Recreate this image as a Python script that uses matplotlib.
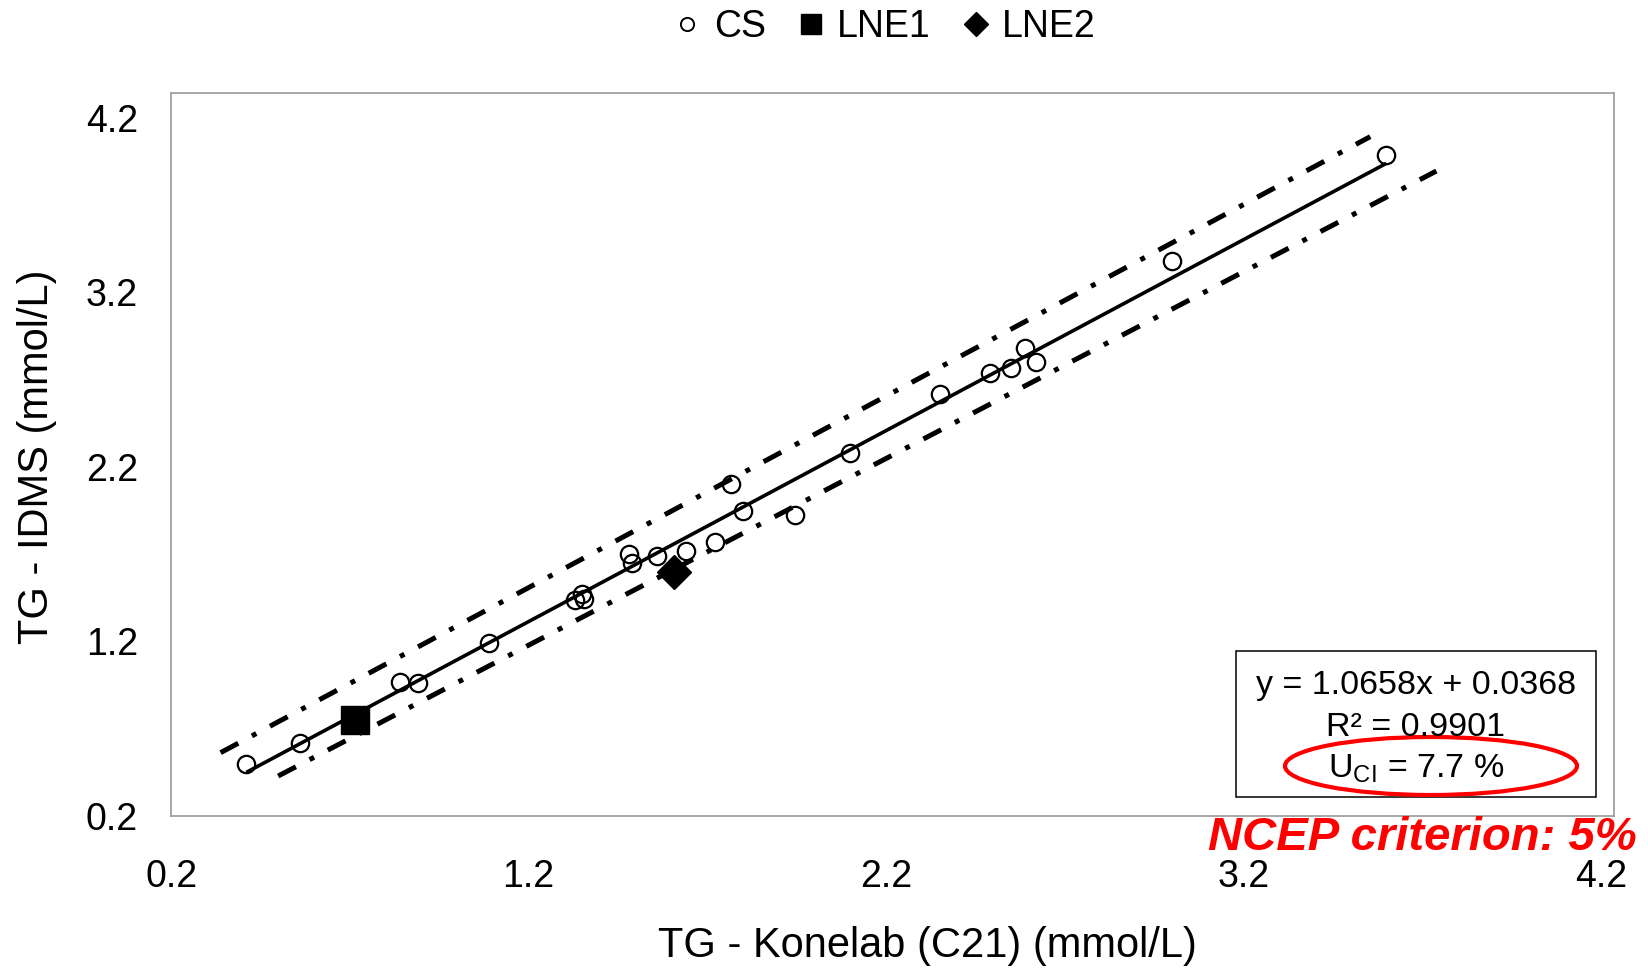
import matplotlib
matplotlib.use("Agg")
import matplotlib.pyplot as plt
from matplotlib import font_manager
from matplotlib.patches import Ellipse, Rectangle
from matplotlib.lines import Line2D

# ---------------- data ----------------
cs_x = [0.41, 0.56, 0.84, 0.89, 1.09, 1.33, 1.35, 1.355, 1.48, 1.49, 1.56, 1.64,
        1.72, 1.765, 1.80, 1.945, 2.10, 2.35, 2.49, 2.55, 2.59, 2.62, 3.00, 3.60]
cs_y = [0.50, 0.62, 0.97, 0.965, 1.19, 1.44, 1.475, 1.445, 1.70, 1.65, 1.69, 1.72,
        1.77, 2.105, 1.95, 1.925, 2.28, 2.62, 2.74, 2.77, 2.88, 2.80, 3.38, 3.99]
lne1_x = [0.715]
lne1_y = [0.748]
lne2_x = [1.607]
lne2_y = [1.600]
fit_x = [0.41, 3.60]
fit_y = [0.45, 3.94]
upper_x = [0.338, 3.555]
upper_y = [0.563, 4.093]
lower_x = [0.499, 3.740]
lower_y = [0.429, 3.896]
ticks = [0.2, 1.2, 2.2, 3.2, 4.2]
tick_labels = ["0.2", "1.2", "2.2", "3.2", "4.2"]
legend_labels = ["CS", "LNE1", "LNE2"]
eq_lines = ["y = 1.0658x + 0.0368", "R² = 0.9901", r"$\mathregular{U_{CI}}$ = 7.7 %"]
xlabel = "TG - Konelab (C21) (mmol/L)"
ylabel = "TG - IDMS (mmol/L)"
criterion = "NCEP criterion: 5%"

# ---------------- style ----------------
plt.rcParams["font.family"] = ["Liberation Sans", "DejaVu Sans"]
plt.rcParams["mathtext.fontset"] = "custom"
plt.rcParams["mathtext.rm"] = "Liberation Sans"
names = {f.name for f in font_manager.fontManager.ttflist}
if "Liberation Sans Narrow" in names:
    lab_font = dict(family=["Liberation Sans Narrow", "Liberation Sans"], size=36)
else:
    lab_font = dict(family=["Liberation Sans", "DejaVu Sans"], size=30)

W, H = 1648, 973
fig = plt.figure(figsize=(W / 100, H / 100), dpi=100)
L, R, B, T = 171.3, 1614, 816, 92.5
ax = fig.add_axes([L / W, 1 - B / H, (R - L) / W, (B - T) / H])

dash = (0, (4, 3.1, 1, 3.1))
ax.plot(upper_x, upper_y, color="black", lw=3.6, ls=dash, dash_capstyle="butt", zorder=2)
ax.plot(lower_x, lower_y, color="black", lw=3.6, ls=dash, dash_capstyle="butt", zorder=2)
ax.plot(fit_x, fit_y, color="black", lw=2.6, solid_capstyle="butt", zorder=2)
ax.plot(cs_x, cs_y, ls="", marker="o", ms=12.5, mfc="none", mec="black", mew=1.6, zorder=3)
ax.plot(lne1_x, lne1_y, ls="", marker="s", ms=20, mfc="black", mec="black", mew=1, zorder=4)
ax.plot(lne2_x, lne2_y, ls="", marker="D", ms=17.5, mfc="black", mec="black", mew=1, zorder=4)

ax.set_xlim(0.2, 4.237)
ax.set_ylim(0.2, 4.346)
ax.set_xticks(ticks)
ax.set_xticklabels(tick_labels)
ax.set_yticks(ticks)
ax.set_yticklabels(tick_labels)
ax.tick_params(axis="both", length=0, labelsize=27)
ax.tick_params(axis="x", pad=31)
ax.tick_params(axis="y", pad=24)
for s in ax.spines.values():
    s.set_color("#a0a0a0")
    s.set_linewidth(1.3)

ax.set_xlabel(xlabel, va="center", **lab_font)
ax.xaxis.set_label_coords((927.5 - L) / (R - L), (B - 946) / (B - T))
ax.set_ylabel(ylabel, va="center", **lab_font)
ax.yaxis.set_label_coords((37 - L) / (R - L), (B - 457) / (B - T))

# legend
handles = [
    Line2D([], [], ls="", marker="o", ms=9.5, mfc="white", mec="black", mew=1.4),
    Line2D([], [], ls="", marker="s", ms=15, mfc="black", mec="black"),
    Line2D([], [], ls="", marker="D", ms=12.5, mfc="black", mec="black"),
]
fig.legend(handles, legend_labels, loc="center", bbox_to_anchor=(884 / W, 1 - 26.7 / H),
           ncol=3, frameon=False, fontsize=27, handlelength=0.8, handletextpad=0.3,
           columnspacing=0.8, borderpad=0, borderaxespad=0)

# equation box
fig.patches.append(Rectangle((1236 / W, 1 - 797 / H), 360 / W, 146 / H,
                             transform=fig.transFigure, fill=False, ec="black", lw=1.1))
for txt, yb in zip(eq_lines, [694, 736, 778]):
    fig.text(1416 / W, 1 - yb / H, txt, ha="center", va="baseline", fontsize=24.5)
fig.patches.append(Ellipse((1431 / W, 1 - 766 / H), 292 / W, 58 / H,
                           transform=fig.transFigure, fill=False, ec="#ff0000", lw=3))

fig.text(1637 / W, 1 - 850 / H, criterion, ha="right", va="baseline", fontsize=34,
         fontweight="bold", fontstyle="italic", color="#ff0000")

fig.savefig("out.png", dpi=100, facecolor="white")
